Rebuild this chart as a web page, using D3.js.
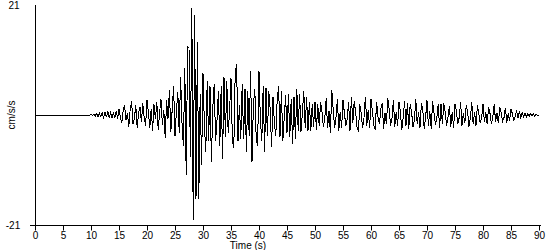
<!DOCTYPE html>
<html>
<head>
<meta charset="UTF-8">
<title>Accelerogram</title>
<script src="https://cdnjs.cloudflare.com/ajax/libs/d3/7.8.5/d3.min.js"></script>
<style>
body { margin: 0; background: #fff; }
svg { display: block; }
.axis text { font-family: "Liberation Sans", Arial, sans-serif; font-size: 10px; fill: #000; }
.label { font-family: "Liberation Sans", Arial, sans-serif; font-size: 10px; fill: #000; }
.trace { fill: none; stroke: #000; stroke-width: 1; shape-rendering: crispEdges; }
</style>
</head>
<body>
<script>
// record settings
var startTime = 0, sampleInterval = 0.25;   // seconds
var xTicks = [0,5,10,15,20,25,30,35,40,45,50,55,60,65,70,75,80,85,90];
var yLimits = [-21, 21];

// acceleration (cm/s/s), one row per second
var accel = [
  0,0,0,0, 0,0,0,0, 0,0,0,0, 0,0,0,0, 0,0,0,0,
  0,0,0,0, 0,0,0,0, 0,0,0,0, 0,0,0,0, 0,0,0,0,
  0.1,-0.1,0.2,-0.2,      // 10
  0.3,-0.4,0.3,-0.3,
  0.4,-0.5,0.6,-0.4,
  0.7,-0.6,0.4,-0.5,
  0.5,-0.6,0.8,-0.7,
  1.2,-0.4,-1.5,0.9,      // 15
  1.8,-1.0,0.3,-2.2,
  1.1,2.6,-1.8,-0.6,
  1.9,-2.5,0.4,1.6,
  -1.4,2.2,-0.5,-2.0,
  2.8,0.6,-2.4,1.2,       // 20
  -3.0,2.0,-0.8,2.4,
  -2.8,0.5,3.0,-1.9,
  1.0,-4.4,2.8,-0.7,
  4.8,-3.2,1.0,5.5,
  -4.0,0.8,4.4,-3.4,      // 25
  7.3,-1.5,-6.0,9.0,
  -11.5,13.0,12.8,-8.0,
  20.4,-20.0,19.0,-16.0,
  14.0,-16.0,4.0,-9.5,
  8.0,-2.0,-7.0,6.5,      // 30
  -5.0,5.5,-9.0,1.5,
  6.0,-5.0,-1.0,4.5,
  -6.0,5.5,-8.4,7.2,
  -4.2,6.5,-3.5,1.0,
  7.0,-5.0,-6.3,8.0,      // 35
  9.7,-5.0,2.0,-4.5,
  6.0,-4.5,5.0,-7.0,
  4.5,-4.0,8.4,-9.0,
  2.0,5.0,-4.5,-6.0,
  8.4,-1.0,-5.0,5.5,      // 40
  -7.0,5.2,-4.0,4.5,
  1.0,-6.1,3.5,-1.5,
  -4.0,3.0,5.5,-4.2,
  4.5,-5.0,-0.5,3.8,
  -3.5,4.0,-4.2,3.0,      // 45
  -5.5,3.5,-4.5,5.0,
  -3.0,4.0,-3.2,0.5,
  4.6,-2.5,3.5,-3.0,
  2.5,-3.0,2.0,-2.2,
  2.5,-2.8,2.0,-2.0,      // 50
  2.4,0.5,-2.2,-0.6,
  3.2,-2.5,0.8,-3.4,
  4.8,1.0,-2.5,-0.4,
  3.0,-3.0,0.6,-2.5,
  2.8,0.4,-2.0,-0.8,      // 55
  2.5,-3.0,3.5,-1.5,
  2.6,0.6,-2.2,-3.2,
  2.0,0.3,-2.5,-0.5,
  3.5,-2.0,1.0,-2.5,
  3.0,0.8,-2.0,-2.8,      // 60
  2.5,-0.4,-1.8,1.2,
  2.2,-2.6,0.4,-1.8,
  3.2,1.0,-2.0,-0.6,
  2.8,-2.2,0.5,-2.0,
  2.4,0.6,-2.8,-0.4,      // 65
  2.6,-2.0,2.2,-2.6,
  2.0,0.5,-2.2,-1.0,
  3.0,-1.8,0.6,-2.4,
  2.2,1.0,-2.6,-0.5,
  2.8,-2.0,0.8,-2.6,      // 70
  2.6,0.4,-1.8,-0.6,
  2.0,-2.4,2.1,-1.8,
  2.2,0.5,-2.0,-0.4,
  1.8,-2.2,0.6,-2.5,
  2.1,0.8,-1.8,-0.5,      // 75
  2.4,-2.0,0.4,-1.6,
  1.8,0.6,-2.2,-0.4,
  2.4,-1.8,0.5,-2.0,
  1.8,0.4,-1.6,-0.6,
  2.1,-1.4,0.5,-1.8,      // 80
  1.6,0.3,-1.7,-0.4,
  2.0,-1.3,0.4,-1.6,
  1.5,0.4,-1.2,-0.5,
  1.4,-1.5,0.3,-1.1,
  1.2,0.2,-1.0,-0.3,      // 85
  0.9,-0.6,0.7,-0.5,
  0.4,-0.3,0.3,-0.4,
  0.3,-0.2,0.3,-0.2,
  0.2,-0.2,0.1,-0.1,
  0                       // 90
];

var width = 550, height = 250;
var svg = d3.select("body").append("svg")
    .attr("width", width)
    .attr("height", height);

var x = d3.scaleLinear().domain([0, 90]).range([35, 539]);
var y = d3.scaleLinear().domain(yLimits).range([225, 5]);

var series = accel.map(function(v, i) {
  return { t: startTime + i * sampleInterval, a: v };
});

// trace
var line = d3.line()
    .x(function(d) { return x(d.t); })
    .y(function(d) { return y(d.a); });

svg.append("path")
    .datum(series)
    .attr("class", "trace")
    .attr("d", line);

// x axis
var xAxis = svg.append("g")
    .attr("class", "axis")
    .attr("transform", "translate(0,225.5)")
    .call(d3.axisBottom(x).tickValues(xTicks).tickSize(5).tickSizeOuter(0));
xAxis.select(".domain").attr("d", "M30,0H541");
xAxis.selectAll(".tick text").attr("y", 7).attr("dy", "0.6em");

// y axis: plain line with end labels
svg.append("line")
    .attr("x1", 35.5).attr("x2", 35.5)
    .attr("y1", y(21)).attr("y2", y(-21))
    .attr("stroke", "#000");

svg.append("text").attr("class", "label")
    .attr("x", 14).attr("y", y(21) + 4)
    .attr("text-anchor", "middle")
    .text(yLimits[1]);
svg.append("text").attr("class", "label")
    .attr("x", 13).attr("y", y(-21) + 4)
    .attr("text-anchor", "middle")
    .text(yLimits[0]);

svg.append("text").attr("class", "label")
    .attr("transform", "translate(15," + y(0) + ") rotate(-90)")
    .attr("text-anchor", "middle")
    .text("cm/s/s");

svg.append("text").attr("class", "label")
    .attr("x", 248).attr("y", 249)
    .attr("text-anchor", "middle")
    .text("Time (s)");
</script>
</body>
</html>
